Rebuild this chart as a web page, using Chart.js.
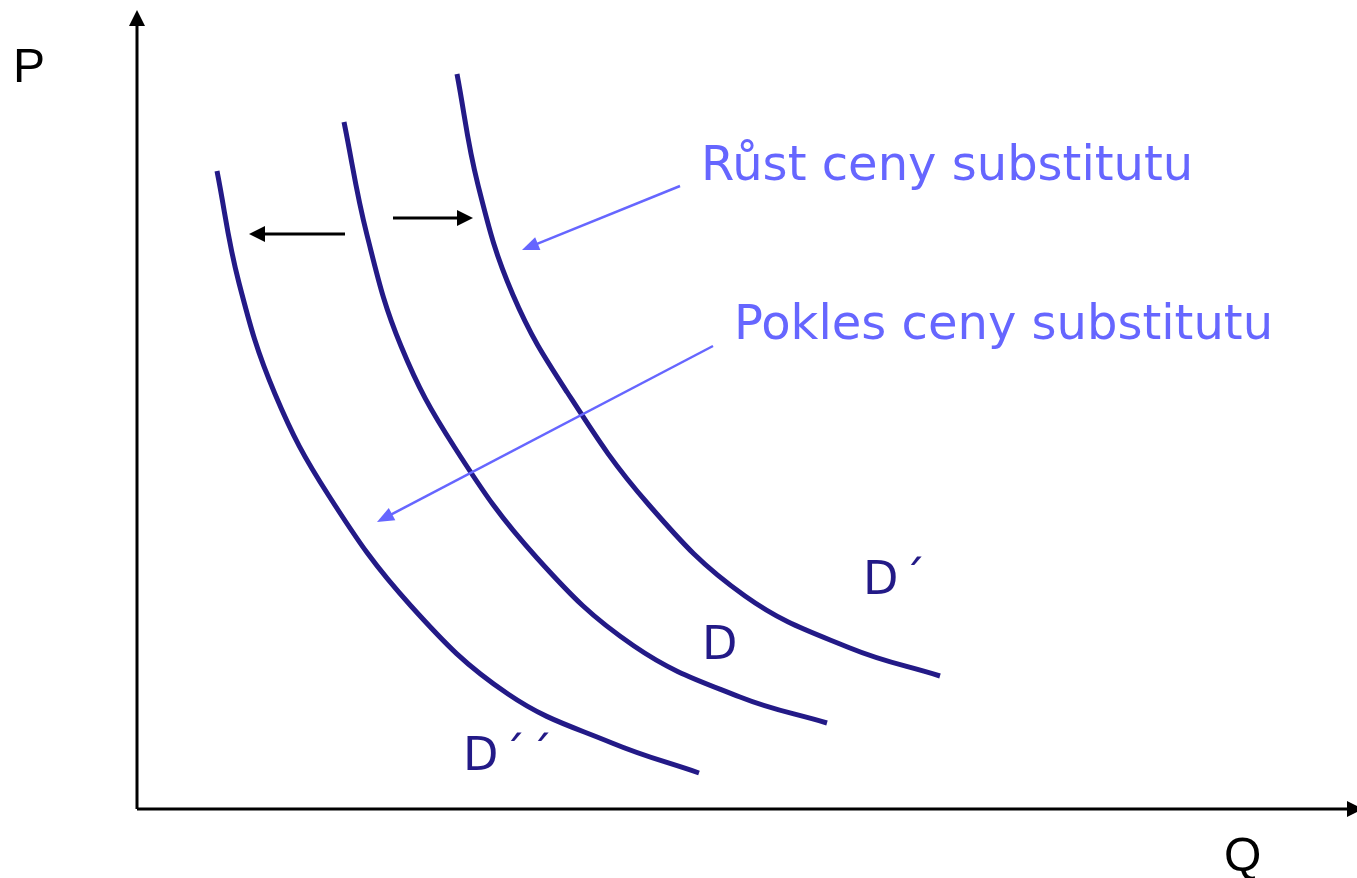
<!DOCTYPE html>
<html>
<head>
<meta charset="utf-8">
<title>Poptávka – změna ceny substitutu</title>
<script src="https://cdn.jsdelivr.net/npm/chart.js@4/dist/chart.umd.min.js"></script>
<style>
  html, body { margin: 0; padding: 0; background: #fff; }
  canvas { display: block; }
</style>
</head>
<body>
<canvas id="chart" width="1357" height="878"></canvas>
<script>
// množství Q a cena P (počátek os = 0,0)
const qD = [207, 230, 264, 318, 400, 497, 603, 690];
const pD = [687, 574, 463, 361, 251, 163, 112, 86];

const qD1 = [320, 341, 376, 430, 512, 608, 713, 803];
const pD1 = [735, 624, 514, 417, 304, 213, 161, 133];

const qD2 = [80, 102, 138, 192, 274, 371, 475, 562];
const pD2 = [638, 526, 415, 313, 203, 115, 66, 36];

const curveNames = ["D", "D´", "D´´"];
const axisNames = ["Q", "P"];
const notes = ["Růst ceny substitutu", "Pokles ceny substitutu"];

const navy = "#231a87";
const lilac = "#6666ff";

function toPoints(q, p) {
  return q.map((v, i) => ({ x: v, y: p[i] }));
}

function curve(label, q, p) {
  return {
    label: label,
    data: toPoints(q, p),
    borderColor: navy,
    borderWidth: 5,
    pointRadius: 0,
    fill: false,
    tension: 0.4,
  };
}

function arrow(ctx, x1, y1, x2, y2, color, width, head, half) {
  const a = Math.atan2(y2 - y1, x2 - x1);
  ctx.save();
  ctx.strokeStyle = color;
  ctx.fillStyle = color;
  ctx.lineWidth = width;
  ctx.beginPath();
  ctx.moveTo(x1, y1);
  ctx.lineTo(x2 - Math.cos(a) * head * 0.8, y2 - Math.sin(a) * head * 0.8);
  ctx.stroke();
  ctx.beginPath();
  ctx.moveTo(x2, y2);
  ctx.lineTo(x2 - Math.cos(a) * head + Math.sin(a) * half, y2 - Math.sin(a) * head - Math.cos(a) * half);
  ctx.lineTo(x2 - Math.cos(a) * head - Math.sin(a) * half, y2 - Math.sin(a) * head + Math.cos(a) * half);
  ctx.closePath();
  ctx.fill();
  ctx.restore();
}

// osy, šipky a popisky
const decor = {
  id: "decor",
  afterDatasetsDraw(chart) {
    const { ctx, chartArea: area, scales } = chart;
    const X = (v) => scales.x.getPixelForValue(v);
    const Y = (v) => scales.y.getPixelForValue(v);

    // osy
    arrow(ctx, X(0), Y(0), X(0), area.top, "#000", 3, 16, 8);
    arrow(ctx, X(0), Y(0), area.right + 6, Y(0), "#000", 3, 16, 8);

    // posun křivek
    arrow(ctx, X(208), Y(575), X(112), Y(575), "#000", 3, 16, 8);
    arrow(ctx, X(256), Y(591), X(336), Y(591), "#000", 3, 16, 8);

    // odkazy na popisky
    arrow(ctx, X(543), Y(623), X(385), Y(559), lilac, 2.5, 17, 7);
    arrow(ctx, X(576), Y(463), X(240), Y(287), lilac, 2.5, 17, 7);

    ctx.save();
    ctx.textBaseline = "alphabetic";
    ctx.textAlign = "left";

    ctx.fillStyle = "#000";
    ctx.font = "48px 'Liberation Sans', Arial, sans-serif";
    ctx.fillText(axisNames[1], X(-124), Y(727));
    ctx.fillText(axisNames[0], X(1087), Y(-62));

    ctx.fillStyle = lilac;
    ctx.font = "48px 'DejaVu Sans', Verdana, sans-serif";
    ctx.fillText(notes[0], X(564), Y(629));
    ctx.fillText(notes[1], X(597), Y(470));

    ctx.fillStyle = navy;
    ctx.font = "46px 'DejaVu Sans', Verdana, sans-serif";
    ctx.letterSpacing = "4px";
    ctx.fillText(curveNames[0], X(565), Y(150));
    ctx.fillText(curveNames[1], X(726), Y(215));
    ctx.fillText(curveNames[2], X(326), Y(39));
    ctx.restore();
  },
};

new Chart(document.getElementById("chart"), {
  type: "line",
  data: {
    datasets: [
      curve(curveNames[0], qD, pD),
      curve(curveNames[1], qD1, pD1),
      curve(curveNames[2], qD2, pD2),
    ],
  },
  options: {
    responsive: false,
    animation: false,
    events: [],
    layout: {
      padding: { left: 137, top: 10, right: 0, bottom: 69 },
    },
    scales: {
      x: { type: "linear", min: 0, max: 1220, display: false },
      y: { type: "linear", min: 0, max: 799, display: false },
    },
    plugins: {
      legend: { display: false },
      tooltip: { enabled: false },
    },
  },
  plugins: [decor],
});
</script>
</body>
</html>
